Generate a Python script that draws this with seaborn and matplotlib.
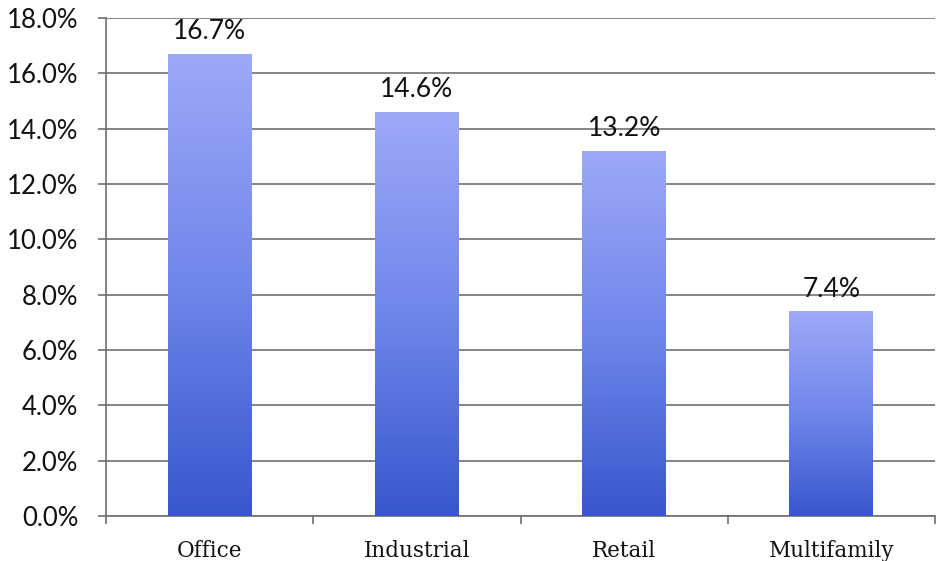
import matplotlib
matplotlib.use("Agg")
import matplotlib.pyplot as plt
import seaborn as sns
import numpy as np
import pandas as pd
from matplotlib.colors import LinearSegmentedColormap
from matplotlib.ticker import FuncFormatter

categories = ["Office", "Industrial", "Retail", "Multifamily"]
values = [16.7, 14.6, 13.2, 7.4]
labels = ["16.7%", "14.6%", "13.2%", "7.4%"]
yticks = [0, 2, 4, 6, 8, 10, 12, 14, 16, 18]

sns.set_theme(style="white")
plt.rcParams['font.family'] = ['Lato', 'DejaVu Sans']

df = pd.DataFrame({"cat": categories, "val": values})

fig = plt.figure(figsize=(9.36, 5.61), dpi=100)
ax = fig.add_axes([106/936, 45/561, 829/936, 498/561])

sns.barplot(data=df, x="cat", y="val", ax=ax, width=0.405, color="#6a80e6",
            edgecolor="none", zorder=3)

cmap = LinearSegmentedColormap.from_list("g", ["#3857cc", "#6f86ea", "#9ea9f7"])
grad = np.linspace(0, 1, 256).reshape(-1, 1)
for p in ax.patches:
    x0, y0 = p.get_x(), p.get_y()
    w, h = p.get_width(), p.get_height()
    im = ax.imshow(grad, cmap=cmap, origin="lower", aspect="auto",
                   extent=[x0, x0 + w, y0, y0 + h], zorder=3.5)
    im.set_clip_path(p)

ax.set_xlim(-0.5, len(categories) - 0.5)
ax.set_ylim(0, 18)
ax.set_yticks(yticks)
ax.yaxis.set_major_formatter(FuncFormatter(lambda v, _: f"{v:.1f}%"))
ax.grid(axis="y", color="#707070", linewidth=1.2, zorder=1)
ax.set_axisbelow(True)

for s in ["top", "right"]:
    ax.spines[s].set_visible(False)
ax.spines["left"].set_color("#707070")
ax.spines["left"].set_linewidth(1.2)
ax.spines["bottom"].set_color("#707070")
ax.spines["bottom"].set_linewidth(1.2)

ax.tick_params(axis="y", which="major", left=True, length=6, width=1.2,
               color="#707070", labelsize=18.5, labelcolor="#111111", pad=14)
ax.set_xticks(range(len(categories)))
ax.set_xticklabels(categories, fontsize=15.5, family=["DejaVu Serif"], color="#111111")
ax.tick_params(axis="x", which="major", bottom=False, length=0, pad=17)
ax.set_xticks(np.arange(-0.5, len(categories) + 0.5, 1), minor=True)
ax.tick_params(axis="x", which="minor", bottom=True, length=6, width=1.2, color="#707070")

for i, (v, t) in enumerate(zip(values, labels)):
    ax.annotate(t, (i, v), xytext=(0, 7), textcoords="offset points",
                ha="center", va="bottom", fontsize=19, color="#111111")

ax.set_xlabel("")
ax.set_ylabel("")
fig.savefig("out.png", dpi=100)
